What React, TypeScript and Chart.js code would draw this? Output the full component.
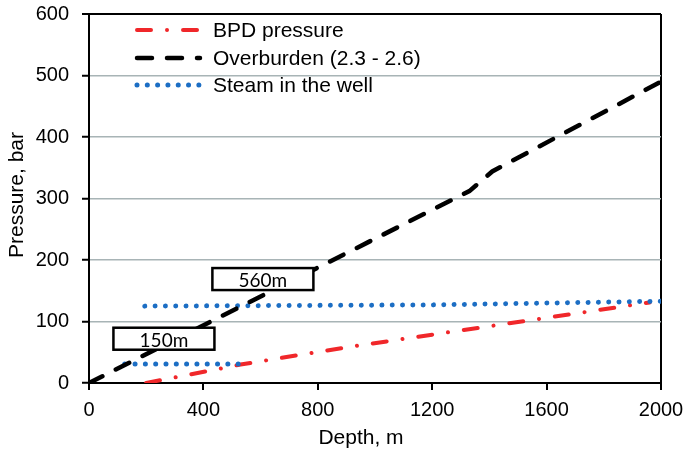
import React, { useEffect, useRef } from "react";
import { Chart, registerables } from "chart.js";

Chart.register(...registerables);

// Pressure profiles versus depth
const bpdDepth = [200, 530, 900, 1600, 1960];
const bpdPressure = [0, 30, 58, 106, 131];

const overburdenDepth = [0, 1330, 1410, 2000];
const overburdenPressure = [0, 312, 344, 490];

const steamShallowDepth = [125, 530];
const steamShallowPressure = [31, 31];

const steamDeepDepth = [195, 1200, 1600, 2000];
const steamDeepPressure = [125, 127, 130, 133];

const seriesLabels = ["BPD pressure", "Overburden (2.3 - 2.6)", "Steam in the well"];

// Depth callouts, centred in data units
const calloutText = ["150m", "560m"];
const calloutDepth = [262, 608];
const calloutPressure = [72, 169];

const FONT = "'Liberation Sans', Arial, sans-serif";
const RED = "#f0272a";
const BLACK = "#000000";
const BLUE = "#1c6ec4";

const zip = (xs: number[], ys: number[]) => xs.map((x, i) => ({ x, y: ys[i] }));

const styles = {
  bpd: { color: RED, width: 4, dash: [14, 16, 0.01, 16] },
  over: { color: BLACK, width: 4.5, dash: [15, 15] },
  steam: { color: BLUE, width: 5, dash: [0.01, 10.3] },
};

const overlayPlugin = {
  id: "overlay",
  afterDraw(chart: any) {
    const ctx = chart.ctx as CanvasRenderingContext2D;
    const xs = chart.scales.x;
    const ys = chart.scales.y;

    // legend
    const legend = [
      { label: seriesLabels[0], s: styles.bpd, y: 30 },
      { label: seriesLabels[1], s: styles.over, y: 58 },
      { label: seriesLabels[2], s: styles.steam, y: 85 },
    ];
    ctx.save();
    legend.forEach((item) => {
      ctx.beginPath();
      ctx.strokeStyle = item.s.color;
      ctx.lineWidth = item.s.width;
      ctx.lineCap = "round";
      ctx.setLineDash(item.s.dash);
      ctx.moveTo(137, item.y);
      ctx.lineTo(200, item.y);
      ctx.stroke();
      ctx.setLineDash([]);
      ctx.fillStyle = "#000";
      ctx.font = `21px ${FONT}`;
      ctx.textAlign = "left";
      ctx.textBaseline = "middle";
      ctx.fillText(item.label, 213, item.y + 1);
    });
    ctx.restore();

    // depth callout boxes
    ctx.save();
    calloutText.forEach((t, i) => {
      const cx = xs.getPixelForValue(calloutDepth[i]);
      const cy = ys.getPixelForValue(calloutPressure[i]);
      const w = 101;
      const h = 22;
      ctx.fillStyle = "#fff";
      ctx.fillRect(cx - w / 2, cy - h / 2, w, h);
      ctx.strokeStyle = "#000";
      ctx.lineWidth = 2.5;
      ctx.strokeRect(cx - w / 2, cy - h / 2, w, h);
      ctx.fillStyle = "#000";
      ctx.font = "19px Lato, 'Liberation Sans', sans-serif";
      ctx.textAlign = "center";
      ctx.textBaseline = "middle";
      ctx.fillText(t, cx, cy + 2);
    });
    ctx.restore();

    // axis titles
    ctx.save();
    ctx.fillStyle = "#000";
    ctx.font = `21px ${FONT}`;
    ctx.textAlign = "center";
    ctx.textBaseline = "middle";
    ctx.fillText("Depth, m", 361, 438);
    ctx.translate(17, 195);
    ctx.rotate(-Math.PI / 2);
    ctx.fillText("Pressure, bar", 0, 0);
    ctx.restore();
  },
};

const noScalePadding = (s: any) => {
  s.paddingTop = 0;
  s.paddingBottom = 0;
  s.paddingLeft = 0;
  s.paddingRight = 0;
};

export default function App() {
  const canvasRef = useRef<HTMLCanvasElement | null>(null);

  useEffect(() => {
    if (!canvasRef.current) return;
    const mk = (label: string, data: any[], s: any) => ({
      label,
      data,
      borderColor: s.color,
      backgroundColor: s.color,
      borderWidth: s.width,
      borderDash: s.dash,
      borderCapStyle: "round",
      pointRadius: 0,
      pointHoverRadius: 0,
      fill: false,
      tension: 0,
    });

    const chart = new Chart(canvasRef.current, {
      type: "line",
      data: {
        datasets: [
          mk(seriesLabels[1], zip(overburdenDepth, overburdenPressure), styles.over),
          mk(seriesLabels[2], zip(steamShallowDepth, steamShallowPressure), styles.steam),
          mk(seriesLabels[2], zip(steamDeepDepth, steamDeepPressure), styles.steam),
          mk(seriesLabels[0], zip(bpdDepth, bpdPressure), styles.bpd),
        ] as any,
      },
      options: {
        responsive: false,
        animation: false,
        devicePixelRatio: 1,
        layout: { padding: { top: 14, right: 25, left: 0, bottom: 0 } },
        plugins: {
          legend: { display: false },
          tooltip: { enabled: false },
          title: { display: false },
        },
        scales: {
          x: {
            type: "linear",
            min: 0,
            max: 2000,
            ticks: {
              stepSize: 400,
              autoSkip: false,
              maxRotation: 0,
              color: "#000",
              padding: 8,
              font: { family: FONT, size: 20 },
              callback: (v: any) => String(v),
            },
            grid: {
              color: (c: any) => (c.tick && c.tick.value === 2000 ? "#000" : "rgba(0,0,0,0)"),
              lineWidth: 2,
              tickColor: "#000",
              tickLength: 7,
              tickWidth: 2,
            },
            border: { display: true, color: "#000", width: 2 },
            afterFit: (s: any) => {
              s.height = 71;
              noScalePadding(s);
            },
          },
          y: {
            min: 0,
            max: 600,
            ticks: {
              stepSize: 100,
              color: "#000",
              padding: 13,
              font: { family: FONT, size: 20 },
              callback: (v: any) => String(v),
            },
            grid: {
              color: (c: any) => {
                const v = c.tick ? c.tick.value : -1;
                if (v === 600) return "#000";
                if (v === 0) return "rgba(0,0,0,0)";
                return "#a8b4b6";
              },
              lineWidth: (c: any) => (c.tick && c.tick.value === 600 ? 2 : 1.5),
              tickColor: "#000",
              tickLength: 7,
              tickWidth: 2,
            },
            border: { display: true, color: "#000", width: 2 },
            afterFit: (s: any) => {
              s.width = 89;
              noScalePadding(s);
            },
          },
        },
      } as any,
      plugins: [overlayPlugin],
    });
    return () => chart.destroy();
  }, []);

  return (
    <div style={{ position: "absolute", left: 0, top: 0, width: 686, height: 454, background: "#fff" }}>
      <canvas ref={canvasRef} width={686} height={454} />
    </div>
  );
}
